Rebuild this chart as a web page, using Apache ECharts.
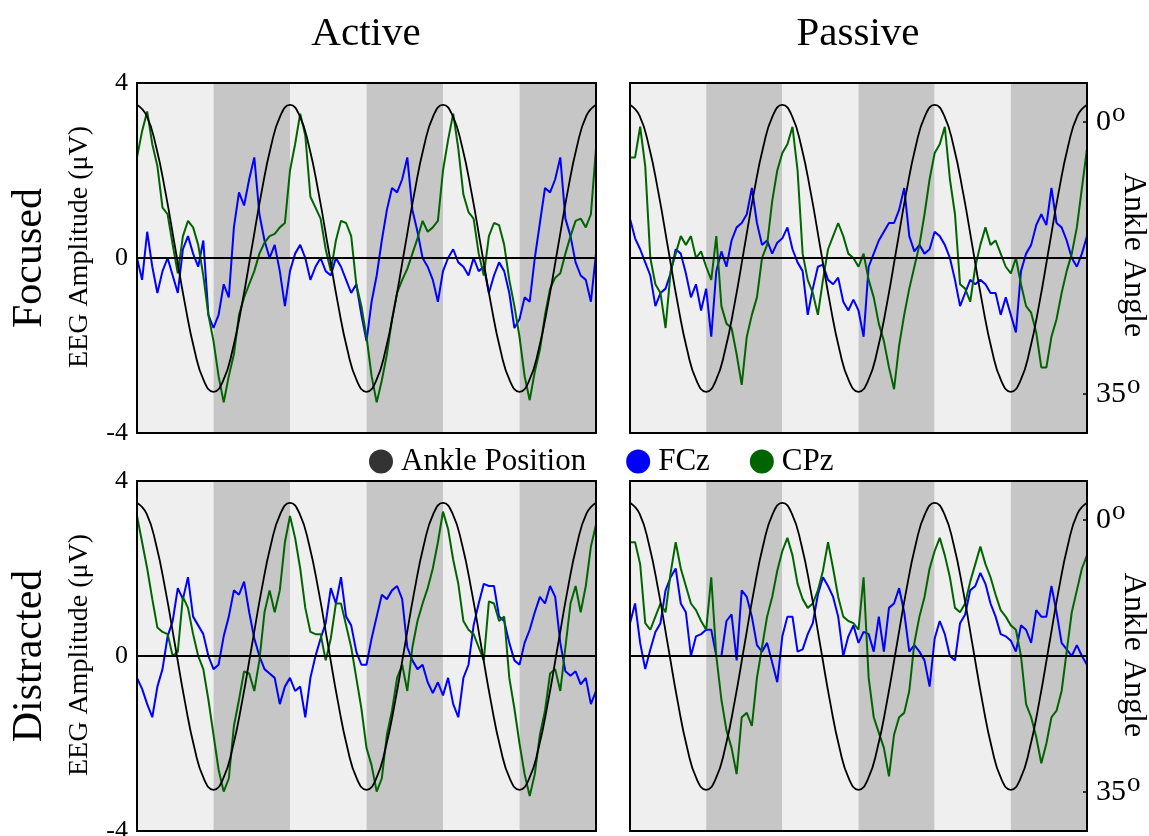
<!DOCTYPE html>
<html><head><meta charset="utf-8">
<script src="https://cdn.jsdelivr.net/npm/echarts@6/dist/echarts.min.js"></script>
<style>html,body{margin:0;padding:0;background:#fff}#c{width:1149px;height:836px}</style>
</head><body><div id="c"></div>
<script>
// ---------- data ----------
const columnTitles = ['Active', 'Passive'];
const rowTitles = ['Focused', 'Distracted'];
const legendNames = ['Ankle Position', 'FCz', 'CPz'];
const eegTicks = [-4, 0, 4];
const angleTicks = [0, 35];
const bandEdges = [0, 180, 360, 540, 720, 900, 1080];   // gait phase (deg)
const eegStep = 12;      // phase step between EEG samples
const ankleStep = 22.5;  // phase step between ankle samples

// ankle angle (deg), same movement in all panels
const ankleAngle = [
  -2.2, -0.8, 3.2, 9.2, 16.25, 23.3, 29.3, 33.3, 34.7, 33.3, 29.3, 23.3, 16.25, 9.2, 3.2, -0.8,
  -2.2, -0.8, 3.2, 9.2, 16.25, 23.3, 29.3, 33.3, 34.7, 33.3, 29.3, 23.3, 16.25, 9.2, 3.2, -0.8,
  -2.2, -0.8, 3.2, 9.2, 16.25, 23.3, 29.3, 33.3, 34.7, 33.3, 29.3, 23.3, 16.25, 9.2, 3.2, -0.8,
  -2.2];

const activeFocusedFCz = [
  0.0, -0.5, 0.6, -0.2, -0.8, -0.3, 0.0, -0.4, -0.8, 0.2,
  0.5, 0.1, -0.2, 0.4, -1.3, -1.6, -1.3, -0.6, -0.9, 0.7,
  1.5, 1.2, 1.8, 2.3, 1.0, 0.4, 0.0, 0.3, -0.3, -1.1,
  -0.3, 0.1, 0.3, 0.0, -0.5, -0.2, 0.0, -0.3, -0.4, 0.0,
  -0.2, -0.5, -0.8, -0.6, -1.3, -1.9, -1.0, -0.4, 0.4, 1.1,
  1.6, 1.5, 1.8, 2.3, 1.1, 0.6, 0.0, -0.2, -0.5, -1.0,
  -0.3, 0.0, 0.2, -0.1, -0.2, -0.4, 0.0, -0.3, -0.2, -0.8,
  -0.4, -0.1, -0.3, -0.8, -1.6, -1.4, -0.9, -1.0, 0.0, 0.8,
  1.6, 1.5, 1.8, 2.3, 0.9, 0.5, -0.1, -0.4, -0.5, -1.0, 0.1];
const activeFocusedCPz = [
  2.3, 2.9, 3.35, 2.6, 2.1, 1.15, 1.0, 0.3, -0.35, 0.5,
  0.85, 0.7, 0.3, -0.4, -1.3, -1.9, -2.7, -3.3, -2.7, -2.2,
  -1.3, -0.9, -0.6, -0.3, 0.1, 0.35, 0.5, 0.55, 0.7, 0.8,
  2.0, 2.6, 3.3, 2.8, 1.4, 1.15, 0.9, 0.2, -0.3, 0.4,
  0.85, 0.8, 0.5, -0.6, -1.1, -1.8, -2.7, -3.3, -2.8, -2.2,
  -1.4, -0.8, -0.5, -0.25, 0.1, 0.45, 0.85, 0.6, 0.7, 0.85,
  2.0, 2.7, 3.3, 2.5, 1.45, 1.05, 0.9, 0.1, -0.4, 0.5,
  0.8, 0.75, 0.3, -0.5, -1.1, -1.8, -2.7, -3.25, -2.6, -2.1,
  -1.3, -0.7, -0.45, -0.35, 0.1, 0.5, 0.85, 0.9, 0.7, 1.0, 2.5];

const passiveFocusedFCz = [
  0.9, 0.45, 0.2, -0.1, -0.4, -1.1, -0.8, -0.7, -0.35, 0.2,
  0.1, -0.35, -0.9, -0.6, -1.2, -0.7, -1.8, -0.3, 0.15, -0.2,
  0.4, 0.7, 0.8, 1.0, 1.6, 0.8, 0.3, 0.4, 0.1, 0.35,
  0.45, 0.7, 0.2, -0.1, -0.3, -1.3, -0.7, -0.2, -0.15, -0.5,
  -0.6, -0.45, -1.0, -1.2, -0.95, -1.2, -1.8, -0.2, 0.1, 0.4,
  0.6, 0.8, 0.8, 1.1, 1.6, 0.5, 0.15, 0.3, 0.1, 0.2,
  0.6, 0.5, 0.3, 0.0, -0.5, -1.1, -0.8, -0.5, -0.6, -0.5,
  -0.6, -0.8, -0.8, -1.3, -0.9, -1.3, -1.7, -0.3, 0.1, 0.3,
  0.75, 1.0, 0.75, 1.6, 0.8, 0.7, 0.4, 0.0, -0.2, 0.1, 0.5];
const passiveFocusedCPz = [
  2.3, 2.3, 3.0, 2.1, 0.0, -0.6, -0.8, -1.6, -0.3, 0.1,
  0.5, 0.3, 0.5, 0.0, 0.15, -0.2, -0.5, 0.5, -1.1, -1.5,
  -1.6, -2.2, -2.9, -1.8, -1.3, -0.9, 0.0, 0.3, 1.3, 2.0,
  2.4, 2.6, 3.0, 2.0, 0.1, -0.5, -0.8, -1.3, -0.5, 0.2,
  0.5, 0.8, 0.5, 0.1, 0.0, -0.2, 0.1, -0.5, -0.9, -1.5,
  -1.9, -2.5, -3.0, -2.0, -1.3, -0.7, -0.2, 0.3, 1.0, 1.8,
  2.4, 2.6, 3.0, 1.8, 1.0, -0.6, -0.7, -1.0, -0.2, 0.3,
  0.7, 0.3, 0.4, 0.1, -0.2, -0.35, 0.0, -0.6, -1.1, -1.25,
  -1.7, -2.5, -2.5, -1.8, -1.4, -0.8, -0.3, 0.1, 0.7, 1.6, 2.5];

const activeDistractedFCz = [
  -0.5, -0.75, -1.1, -1.4, -0.7, -0.3, 0.45, 0.8, 1.55, 1.3,
  1.8, 0.9, 0.7, 0.5, 0.0, -0.3, -0.2, 0.45, 0.9, 1.5,
  1.4, 1.7, 1.0, 0.4, 0.0, -0.3, -0.4, -0.5, -1.1, -0.7,
  -0.5, -0.8, -0.7, -1.4, -0.5, 0.0, 0.4, 0.75, 1.55, 1.2,
  1.8, 0.9, 0.7, 0.1, -0.2, -0.2, 0.4, 0.9, 1.4, 1.3,
  1.5, 1.6, 1.3, 0.2, -0.1, -0.3, -0.2, -0.6, -0.85, -0.6,
  -0.9, -0.5, -1.1, -1.4, -0.5, -0.2, 0.7, 1.2, 1.65, 1.6,
  1.6, 0.9, 0.8, 0.3, -0.1, -0.2, 0.3, 0.6, 1.0, 1.35,
  1.2, 1.6, 1.35, 0.3, -0.35, -0.45, -0.35, -0.65, -0.5, -1.1, -0.8];
const activeDistractedCPz = [
  3.2, 2.6, 2.0, 1.3, 0.65, 0.55, 0.5, 0.0, 0.1, 1.35,
  1.1, 0.5, 0.0, -0.3, -1.0, -1.8, -2.6, -3.1, -2.8, -1.6,
  -1.0, -0.35, -0.4, -0.8, -0.1, 1.0, 1.5, 1.0, 1.5, 2.6,
  3.2, 2.7, 2.0, 1.1, 0.55, 0.5, 0.5, -0.1, 0.4, 1.2,
  1.2, 0.7, 0.2, -0.5, -1.2, -2.1, -2.5, -3.1, -2.8, -1.8,
  -1.25, -0.5, -0.2, -0.8, 0.2, 0.8, 1.2, 1.55, 2.0, 2.6,
  3.3, 2.9, 2.2, 1.65, 0.8, 0.6, 0.5, 0.2, -0.1, 1.25,
  1.2, 0.8, 0.9, -0.5, -1.2, -2.0, -2.7, -3.2, -2.7, -1.8,
  -1.25, -0.4, -0.3, -0.8, 0.2, 1.2, 1.6, 1.0, 1.6, 2.5, 3.0];

const passiveDistractedFCz = [
  0.75, 1.2, 0.3, -0.3, 0.15, 0.55, 0.75, 1.5, 1.8, 2.0,
  1.2, 1.0, 0.0, 0.45, 0.5, 0.6, 0.6, 0.0, 0.0, 0.8,
  0.95, -0.1, 1.5, 1.35, 0.9, 0.25, 0.1, 0.3, -0.15, -0.6,
  0.45, 0.9, 0.9, 0.1, 0.15, 0.5, 0.75, 1.4, 1.8, 1.6,
  1.35, 0.9, 0.0, 0.45, 0.7, 0.3, 0.55, 0.5, 0.1, 0.9,
  0.1, 1.1, 1.2, 1.55, 1.0, 0.1, 0.25, 0.1, -0.1, -0.7,
  0.4, 0.8, 0.5, 0.0, -0.1, 0.75, 0.95, 1.5, 1.6, 1.9,
  1.65, 1.2, 0.9, 0.5, 0.45, 0.35, 0.1, 0.7, 0.6, 0.3,
  1.05, 0.9, 0.9, 1.6, 1.0, 0.3, 0.15, 0.0, 0.25, 0.0, -0.2];
const passiveDistractedCPz = [
  2.6, 2.6, 2.1, 0.75, 0.6, 0.9, 1.2, 1.0, 1.9, 2.6,
  2.0, 1.6, 1.2, 1.05, 0.8, 0.6, 1.8, 0.0, -1.0, -1.7,
  -2.1, -2.7, -1.4, -1.3, -1.6, -0.5, 0.2, 0.9, 1.35, 1.95,
  2.4, 2.7, 2.3, 1.65, 1.3, 1.1, 1.2, 1.5, 1.95, 2.6,
  2.0, 1.35, 0.9, 0.8, 0.75, 0.6, 1.8, -0.5, -1.4, -1.75,
  -2.1, -2.75, -1.8, -1.4, -1.3, -0.8, 0.3, 0.9, 1.35, 2.0,
  2.4, 2.7, 2.3, 1.8, 1.1, 1.0, 1.2, 1.7, 2.1, 2.5,
  2.1, 1.8, 1.4, 1.05, 0.9, 0.7, 0.6, 0.0, -1.1, -1.4,
  -1.85, -2.45, -2.0, -1.4, -1.25, -0.8, 0.1, 1.0, 1.5, 2.0, 2.3];

// ---------- layout / style ----------
const FONT = '"Liberation Serif", "Times New Roman", serif';
const BLUE = '#0000ff', GREEN = '#006400', LIGHT = '#efefef', DARK = '#c6c6c6';
const gridBoxes = [
  {left: 137, top: 83, width: 459, height: 350},
  {left: 630, top: 83, width: 457, height: 350},
  {left: 137, top: 481, width: 459, height: 350},
  {left: 630, top: 481, width: 457, height: 350}
];
const panels = [
  {fcz: activeFocusedFCz, cpz: activeFocusedCPz, passive: false},
  {fcz: passiveFocusedFCz, cpz: passiveFocusedCPz, passive: true},
  {fcz: activeDistractedFCz, cpz: activeDistractedCPz, passive: false},
  {fcz: passiveDistractedFCz, cpz: passiveDistractedCPz, passive: true}
];

const frameLine = {show: true, onZero: false, lineStyle: {color: '#000', width: 2}};
const grid = [], xAxis = [], yAxis = [], series = [];
const bandData = [];
for (let b = 0; b < bandEdges.length - 1; b++) {
  bandData.push([{xAxis: bandEdges[b], itemStyle: {color: b % 2 ? DARK : LIGHT}}, {xAxis: bandEdges[b + 1]}]);
}

panels.forEach((p, g) => {
  grid.push(Object.assign({containLabel: false, outerBoundsMode: 'none'}, gridBoxes[g]));
  ['bottom', 'top'].forEach(pos => xAxis.push({
    type: 'value', gridIndex: g, min: 0, max: 1080, position: pos, z: 10,
    axisLine: frameLine, axisTick: {show: false}, axisLabel: {show: false}, splitLine: {show: false}
  }));
  yAxis.push({
    type: 'value', gridIndex: g, min: eegTicks[0], max: eegTicks[2], interval: 4, position: 'left', z: 10,
    axisLine: frameLine, axisTick: {show: false}, splitLine: {show: false},
    axisLabel: {show: !p.passive, fontFamily: FONT, fontSize: 26, color: '#000', margin: 9}
  });
  yAxis.push({
    type: 'value', gridIndex: g, min: -5, max: 40, inverse: true, position: 'right', z: 10,
    axisLine: frameLine, splitLine: {show: false},
    axisTick: {show: p.passive, inside: true, length: 4, customValues: angleTicks, lineStyle: {color: '#000', width: 1.5}},
    axisLabel: {
      show: p.passive, customValues: angleTicks, margin: 9,
      fontFamily: FONT, fontSize: 30, color: '#000',
      formatter: v => '{n|' + v + '}{d|o}',
      rich: {
        n: {fontFamily: FONT, fontSize: 30, color: '#000', verticalAlign: 'middle'},
        d: {fontFamily: FONT, fontSize: 27, color: '#000', verticalAlign: 'top', padding: [0, 0, 16, 1]}
      }
    }
  });
  const xi = 2 * g, yi = 2 * g;
  series.push({
    type: 'line', xAxisIndex: xi, yAxisIndex: yi, data: [], silent: true, z: 1,
    markArea: {silent: true, data: bandData}
  });
  series.push({
    name: 'FCz', type: 'line', xAxisIndex: xi, yAxisIndex: yi, z: 2,
    data: p.fcz.map((v, i) => [i * eegStep, v]), showSymbol: false,
    lineStyle: {color: BLUE, width: 2}, itemStyle: {color: BLUE}
  });
  series.push({
    name: 'CPz', type: 'line', xAxisIndex: xi, yAxisIndex: yi, z: 3,
    data: p.cpz.map((v, i) => [i * eegStep, v]), showSymbol: false,
    lineStyle: {color: GREEN, width: 2}, itemStyle: {color: GREEN}
  });
  series.push({
    name: 'Ankle Position', type: 'line', xAxisIndex: xi, yAxisIndex: yi + 1, z: 4,
    data: ankleAngle.map((v, i) => [i * ankleStep, v]), showSymbol: false, smooth: true,
    lineStyle: {color: '#000', width: 1.8}, itemStyle: {color: '#333'}
  });
  series.push({
    type: 'line', xAxisIndex: xi, yAxisIndex: yi, data: [], silent: true, z: 5,
    markLine: {silent: true, symbol: ['none', 'none'], label: {show: false},
      lineStyle: {color: '#000', width: 1.8, type: 'solid'}, data: [{yAxis: 0}]}
  });
});

const textEl = (txt, x, y, size, rot) => ({
  type: 'text', x: x, y: y, rotation: rot || 0, silent: true,
  style: {text: txt, font: size + 'px ' + FONT, fill: '#000', textAlign: 'center', textVerticalAlign: 'middle'}
});
const graphic = [
  textEl(columnTitles[0], 366, 34, 41),
  textEl(columnTitles[1], 858, 34, 41),
  textEl(rowTitles[0], 30, 258, 42, Math.PI / 2),
  textEl(rowTitles[1], 30, 656, 42, Math.PI / 2),
  textEl('EEG Amplitude (μV)', 80, 247, 28, Math.PI / 2),
  textEl('EEG Amplitude (μV)', 80, 655, 28, Math.PI / 2),
  textEl('Ankle Angle', 1133, 255, 32, -Math.PI / 2),
  textEl('Ankle Angle', 1133, 655, 32, -Math.PI / 2)
];

const chart = echarts.init(document.getElementById('c'), null, {renderer: 'canvas'});
chart.setOption({
  animation: false,
  backgroundColor: '#fff',
  grid, xAxis, yAxis, series, graphic,
  legend: {
    data: legendNames, left: 364, top: 441, icon: 'circle',
    itemWidth: 24, itemHeight: 24, itemGap: 40,
    textStyle: {fontFamily: FONT, fontSize: 31, color: '#000', padding: [0, 0, 0, 3]}
  }
});
</script></body></html>
